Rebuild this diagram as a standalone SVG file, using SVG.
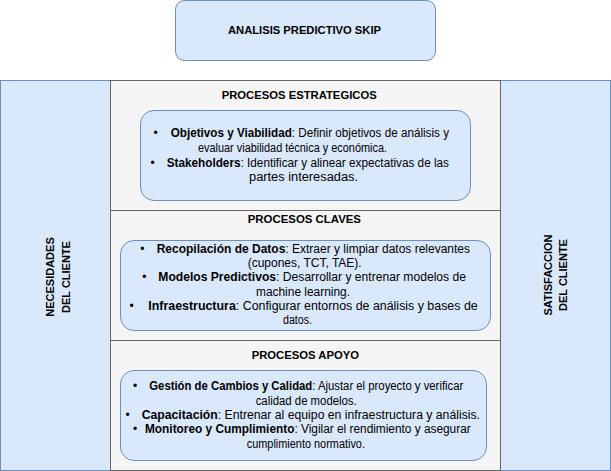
<svg xmlns="http://www.w3.org/2000/svg" width="611" height="471" viewBox="0 0 611 471">
<style>
.blue{fill:#dae8fc;stroke:#6c8ebf;stroke-width:1}
.gray{fill:#f5f5f5;stroke:#666666;stroke-width:1}
text{font-family:"Liberation Sans",Arial,Helvetica,sans-serif;font-size:11px;fill:#000}
.c{text-anchor:middle}
.b{font-weight:bold}
.t{font-size:12px}
</style>
<rect x="0" y="0" width="611" height="471" fill="#ffffff"/>
<g id="top">
<rect class="blue" x="175.5" y="0.5" width="260" height="60" rx="9" ry="9"/>
<text class="b" x="228" y="34" textLength="153" lengthAdjust="spacingAndGlyphs">ANALISIS PREDICTIVO SKIP</text>
</g>
<g id="necesidades">
<rect class="blue" x="0.5" y="80.5" width="110" height="390"/>
<text class="c b" transform="translate(53.5,277) rotate(-90)">NECESIDADES</text>
<text class="c b" transform="translate(69.5,277) rotate(-90)">DEL CLIENTE</text>
</g>
<g id="satisfaccion">
<rect class="blue" x="500.5" y="80.5" width="110" height="390"/>
<text class="c b" transform="translate(552,275) rotate(-90)">SATISFACCION</text>
<text class="c b" transform="translate(567,275) rotate(-90)">DEL CLIENTE</text>
</g>
<g id="estrategicos">
<rect class="gray" x="110.5" y="80.5" width="390" height="130"/>
<text class="b" x="221.7" y="98.5" textLength="155" lengthAdjust="spacingAndGlyphs">PROCESOS ESTRATEGICOS</text>
<rect class="blue" x="140.5" y="110.5" width="330" height="90" rx="13.5" ry="13.5"/>
<text class="c t" x="155.7" y="137">•</text>
<text class="t" x="170.7" y="137" textLength="278.3" lengthAdjust="spacingAndGlyphs"><tspan class="b">Objetivos y Viabilidad</tspan>: Definir objetivos de análisis y</text>
<text class="t" x="198" y="152" textLength="189" lengthAdjust="spacingAndGlyphs">evaluar viabilidad técnica y económica.</text>
<text class="c t" x="152.7" y="166.5">•</text>
<text class="t" x="166.7" y="166.5" textLength="282.3" lengthAdjust="spacingAndGlyphs"><tspan class="b">Stakeholders</tspan>: Identificar y alinear expectativas de las</text>
<text class="t" x="249" y="181" textLength="109" lengthAdjust="spacingAndGlyphs">partes interesadas.</text>
</g>
<g id="claves">
<rect class="gray" x="110.5" y="210.5" width="390" height="130"/>
<text class="b" x="247.7" y="222.5" textLength="113.3" lengthAdjust="spacingAndGlyphs">PROCESOS CLAVES</text>
<rect class="blue" x="120.5" y="240.5" width="370" height="90" rx="13.5" ry="13.5"/>
<text class="c t" x="142.3" y="252.5">•</text>
<text class="t" x="156.7" y="252.5" textLength="313.3" lengthAdjust="spacingAndGlyphs"><tspan class="b">Recopilación de Datos</tspan>: Extraer y limpiar datos relevantes</text>
<text class="t" x="247.7" y="267" textLength="114" lengthAdjust="spacingAndGlyphs">(cupones, TCT, TAE).</text>
<text class="c t" x="144.3" y="281">•</text>
<text class="t" x="158.3" y="281" textLength="307.7" lengthAdjust="spacingAndGlyphs"><tspan class="b">Modelos Predictivos</tspan>: Desarrollar y entrenar modelos de</text>
<text class="t" x="256" y="295.5" textLength="94" lengthAdjust="spacingAndGlyphs">machine learning.</text>
<text class="c t" x="131.7" y="309.5">•</text>
<text class="t" x="148.3" y="309.5" textLength="329.4" lengthAdjust="spacingAndGlyphs"><tspan class="b">Infraestructura</tspan>: Configurar entornos de análisis y bases de</text>
<text class="t" x="283" y="324" textLength="29" lengthAdjust="spacingAndGlyphs">datos.</text>
</g>
<g id="apoyo">
<rect class="gray" x="110.5" y="340.5" width="390" height="130"/>
<text class="b" x="251.7" y="358.5" textLength="107.3" lengthAdjust="spacingAndGlyphs">PROCESOS APOYO</text>
<rect class="blue" x="120.5" y="370.5" width="366" height="90" rx="13.5" ry="13.5"/>
<text class="c t" x="135" y="390">•</text>
<text class="t" x="149.3" y="390" textLength="314" lengthAdjust="spacingAndGlyphs"><tspan class="b">Gestión de Cambios y Calidad</tspan>: Ajustar el proyecto y verificar</text>
<text class="t" x="255.7" y="404.5" textLength="101" lengthAdjust="spacingAndGlyphs">calidad de modelos.</text>
<text class="c t" x="127.7" y="418.5">•</text>
<text class="t" x="141.7" y="418.5" textLength="338.3" lengthAdjust="spacingAndGlyphs"><tspan class="b">Capacitación</tspan>: Entrenar al equipo en infraestructura y análisis.</text>
<text class="c t" x="135" y="433">•</text>
<text class="t" x="145" y="433" textLength="325.7" lengthAdjust="spacingAndGlyphs"><tspan class="b">Monitoreo y Cumplimiento</tspan>: Vigilar el rendimiento y asegurar</text>
<text class="t" x="246.7" y="447.5" textLength="118.3" lengthAdjust="spacingAndGlyphs">cumplimiento normativo.</text>
</g>
<g id="connectors"></g>
</svg>
